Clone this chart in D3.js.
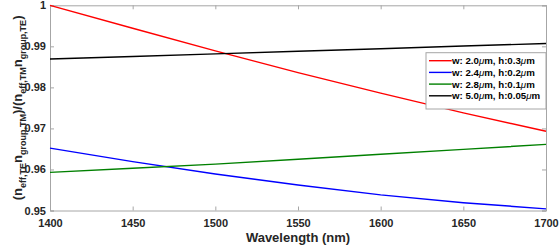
<!DOCTYPE html>
<html lang="en">
<head>
  <meta charset="utf-8">
  <title>ratio vs wavelength</title>
  <script src="https://d3js.org/d3.v7.min.js"></script>
  <style>
    body { margin: 0; background: #fff; }
    text { font-family: "Liberation Sans", Arial, sans-serif; font-weight: bold; fill: #262626; }
    .tick text { font-size: 11px; }
    .legend text { font-size: 9.7px; fill: #000; }
    .mu { font-style: italic; font-weight: normal; }
  </style>
</head>
<body>
<script>
  // data
  const wavelengths = [1400, 1450, 1500, 1550, 1600, 1650, 1700];
  const seriesNames = ["w: 2.0", "w: 2.4", "w: 2.8", "w: 5.0"];
  const seriesH = ["h:0.3", "h:0.2", "h:0.1", "h:0.05"];
  const seriesColors = ["#ff0000", "#0000ff", "#008000", "#000000"];
  const red = [1.0000, 0.9944, 0.9889, 0.9836, 0.9786, 0.9738, 0.9693];
  const blue = [0.9652, 0.9619, 0.9589, 0.9562, 0.9538, 0.9519, 0.9504];
  const green = [0.9593, 0.9603, 0.9613, 0.9625, 0.9637, 0.9649, 0.9661];
  const black = [0.9869, 0.98753, 0.98817, 0.9888, 0.98943, 0.99007, 0.9907];
  const seriesValues = [red, blue, green, black];
  const xTicks = [1400, 1450, 1500, 1550, 1600, 1650, 1700];
  const yTicks = [0.95, 0.96, 0.97, 0.98, 0.99, 1];

  const width = 559, height = 245;
  const margin = { top: 5.3, right: 13, bottom: 34.5, left: 50 };
  const frameColor = "#a6a6a6";

  const svg = d3.select("body").append("svg")
    .attr("width", width).attr("height", height);

  const x = d3.scaleLinear().domain([1400, 1700]).range([margin.left, width - margin.right]);
  const y = d3.scaleLinear().domain([0.95, 1]).range([height - margin.bottom, margin.top]);

  // axes, ticks pointing inward, mirrored on top/right
  const fmtY = d => d === 1 ? "1" : d3.format(".2f")(d);
  const gx = svg.append("g").attr("transform", `translate(0,${y(0.95)})`)
    .call(d3.axisBottom(x).tickValues(xTicks).tickSize(-4).tickPadding(7).tickFormat(d3.format("d")));
  const gy = svg.append("g").attr("transform", `translate(${x(1400)},0)`)
    .call(d3.axisLeft(y).tickValues(yTicks).tickSize(-4).tickPadding(4).tickFormat(fmtY));
  const gt = svg.append("g").attr("transform", `translate(0,${y(1)})`)
    .call(d3.axisTop(x).tickValues(xTicks).tickSize(-4).tickFormat(""));
  const gr = svg.append("g").attr("transform", `translate(${x(1700)},0)`)
    .call(d3.axisRight(y).tickValues(yTicks).tickSize(-4).tickFormat(""));
  [gx, gy, gt, gr].forEach(g => {
    g.select(".domain").attr("stroke", frameColor);
    g.selectAll(".tick line").attr("stroke", frameColor);
  });
  gx.selectAll(".tick text").attr("dy", "0.9em");

  // lines
  const line = d3.line().x((d, i) => x(wavelengths[i])).y(d => y(d));
  svg.append("g").selectAll("path").data(seriesValues).join("path")
    .attr("d", d => line(d))
    .attr("fill", "none")
    .attr("stroke", (d, i) => seriesColors[i])
    .attr("stroke-width", 1.4);

  // axis labels
  svg.append("text")
    .attr("x", (x(1400) + x(1700)) / 2).attr("y", 242)
    .attr("text-anchor", "middle").style("font-size", "13px")
    .text("Wavelength (nm)");

  const yl = svg.append("text")
    .attr("transform", `translate(22,${(y(0.95) + y(1)) / 2}) rotate(-90)`)
    .attr("text-anchor", "middle").style("font-size", "13px");
  const parts = [["(n", null], ["eff,TE", 1], ["n", 0], ["group,TM", 1], [")/(n", 0], ["eff,TM", 1], ["n", 0], ["group,TE", 1], [")", 0]];
  parts.forEach(([t, sub]) => {
    const ts = yl.append("tspan").text(t);
    if (sub === 1) ts.attr("dy", 3.5).style("font-size", "9px");
    else if (sub === 0) ts.attr("dy", -3.5);
  });

  // legend
  const lg = svg.append("g").attr("class", "legend");
  const lx0 = 426, ly0 = 52.7, lw = x(1700) - lx0, lh = 56.3;
  lg.append("rect").attr("x", lx0).attr("y", ly0).attr("width", lw).attr("height", lh)
    .attr("fill", "#fff").attr("stroke", frameColor);
  seriesNames.forEach((name, i) => {
    const cy = ly0 + 8 + i * 11.7;
    lg.append("line").attr("x1", lx0 + 3).attr("x2", lx0 + 25.7)
      .attr("y1", cy).attr("y2", cy)
      .attr("stroke", seriesColors[i]).attr("stroke-width", 1.4);
    const t = lg.append("text").attr("x", lx0 + 26).attr("y", cy + 3.5);
    t.append("tspan").text(name);
    t.append("tspan").attr("class", "mu").text("\u03bc");
    t.append("tspan").text("m, " + seriesH[i]);
    t.append("tspan").attr("class", "mu").text("\u03bc");
    t.append("tspan").text("m");
  });
</script>
</body>
</html>
